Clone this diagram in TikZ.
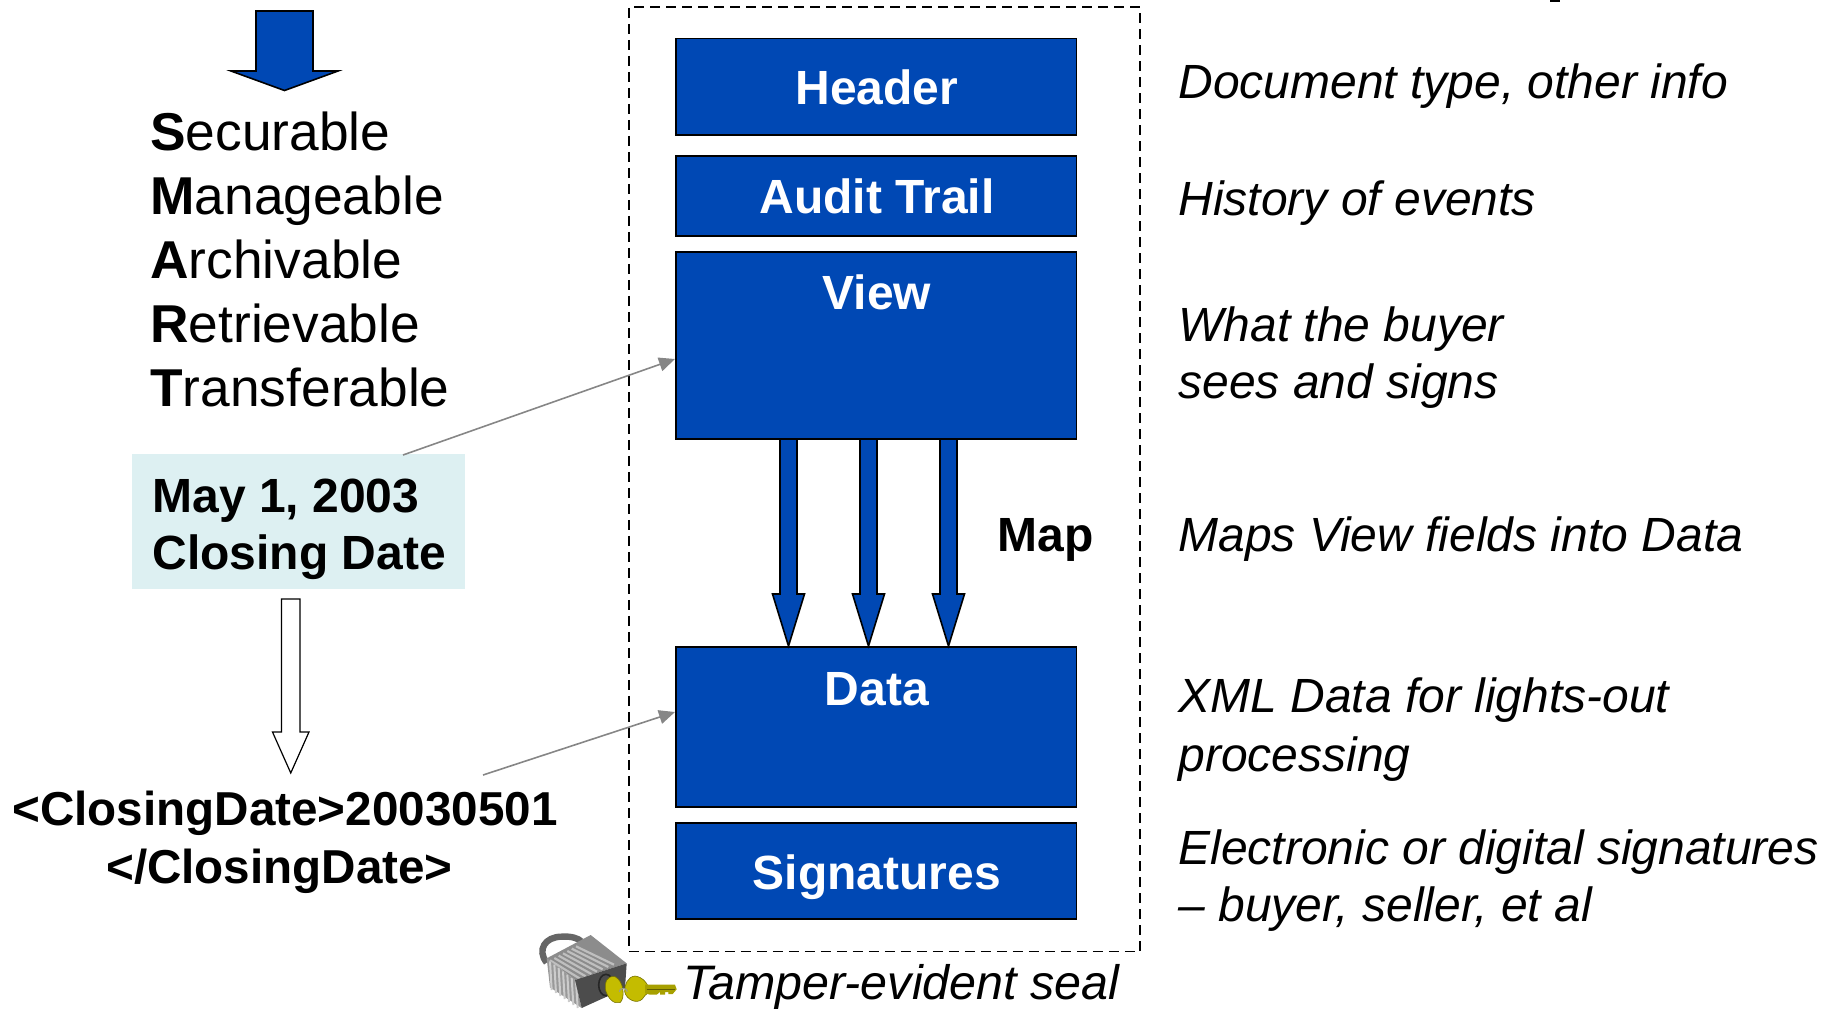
\documentclass[tikz,border=0pt]{standalone}
\usepackage{fontspec}
\setmainfont{Liberation Sans}
\usetikzlibrary{arrows.meta}
\definecolor{blockblue}{HTML}{0048B4}
\definecolor{paleblue}{HTML}{DDF0F2}
\definecolor{linegrey}{HTML}{868686}
\definecolor{keyolive}{HTML}{C4BC00}
\tikzset{
  block/.style={draw=black,line width=.8pt,fill=blockblue,inner sep=0pt},
  blocktext/.style={text=white,font=\fontsize{24}{28}\selectfont\bfseries,anchor=base},
  plain/.style={anchor=base west,inner sep=0pt,font=\fontsize{26.65}{32}\selectfont},
  note/.style={anchor=base west,inner sep=0pt,font=\fontsize{24}{29}\selectfont\itshape},
  sealnote/.style={anchor=base west,inner sep=0pt,font=\fontsize{24.2}{29}\selectfont\itshape},
  strong/.style={anchor=base west,inner sep=0pt,font=\fontsize{24}{29}\selectfont\bfseries},
  strongc/.style={anchor=base,inner sep=0pt,font=\fontsize{23.8}{29}\selectfont\bfseries},
  blockarrow/.style={draw=black,line width=.8pt,fill=blockblue,line join=miter},
  hollowarrow/.style={draw=black,line width=.6pt,fill=white,line join=miter},
  pointer/.style={draw=linegrey,line width=.8pt,-{Triangle[length=8pt,width=7pt]}},
}
\newcommand{\downarrowshape}[7][blockarrow]{% style, x-left, x-right, y-top, y-shoulder, head half overhang, tip y
  \path[#1] (#2,#4) -- (#3,#4) -- (#3,#5) -- ({#3+#6},#5) -- ({(#2+#3)/2},#7) -- ({#2-#6},#5) -- (#2,#5) -- cycle;}
\begin{document}
\begin{tikzpicture}[x=.5pt,y=-.5pt]
\useasboundingbox (0,0) rectangle (1832,1008);
% dashed container
\node[draw=black,dash pattern=on 5pt off 3pt,line width=.8pt,minimum width=255.6pt,minimum height=472.3pt,inner sep=0pt,anchor=north west] (frame) at (628,6) {};
% blocks
\node[block,minimum width=200.3pt,minimum height=48.3pt,anchor=north west] (header) at (675,37.5) {};
\node[block,minimum width=200.3pt,minimum height=40pt,anchor=north west] (audit) at (675,155) {};
\node[block,minimum width=200.3pt,minimum height=93.5pt,anchor=north west] (view) at (675,251) {};
\node[block,minimum width=200.3pt,minimum height=80pt,anchor=north west] (data) at (675,646) {};
\node[block,minimum width=200.3pt,minimum height=48pt,anchor=north west] (sign) at (675,822) {};
\node[blocktext] (headert) at (877,104) {Header};
\node[blocktext] (auditt) at (877,213) {Audit Trail};
\node[blocktext] (viewt) at (877,309) {View};
\node[blocktext] (datat) at (877,705) {Data};
\node[blocktext] (signt) at (877,889) {Signatures};
% map arrows
\downarrowshape{780}{797}{439}{594}{7.5}{646}
\downarrowshape{860}{877}{439}{594}{7.5}{646}
\downarrowshape{940}{957}{439}{594}{7.5}{646}
\node[strong] (map) at (997,551) {Map};
% top arrow
\downarrowshape{256}{313}{11}{71}{25}{90.5}
% acronym list
\node[plain] (s) at (150,150.5) {\textbf{S}ecurable};
\node[plain] (m) at (150,214.5) {\textbf{M}anageable};
\node[plain] (a) at (150,278.5) {\textbf{A}rchivable};
\node[plain] (r) at (150,342.5) {\textbf{R}etrievable};
\node[plain] (t) at (150,406.5) {\textbf{T}ransferable};
% closing date
\node[fill=paleblue,minimum width=166.5pt,minimum height=67.5pt,inner sep=0pt,anchor=north west] (date) at (132,454) {};
\node[strong] (date1) at (152,512) {May 1, 2003};
\node[strong] (date2) at (152,569) {Closing Date};
\downarrowshape[hollowarrow]{281.5}{300}{599}{732}{9}{773}
\node[strongc] (xml1) at (285,825.5) {<ClosingDate>20030501};
\node[strongc] (xml2) at (279.5,883) {</ClosingDate>};
% pointers
\coordinate (p1s) at (403,455);
\coordinate (p1e) at (view.west |- 0,359);
\coordinate (p2s) at (483,775);
\coordinate (p2e) at (data.west |- 0,712);
\draw[pointer] (p1s) -- (p1e);
\draw[pointer] (p2s) -- (p2e);
% notes
\node[note] (n1) at (1178,98.5) {Document type, other info};
\node[note] (n2) at (1178,215.5) {History of events};
\node[note] (n3) at (1178,341) {What the buyer};
\node[note] (n3b) at (1178,398) {sees and signs};
\node[note] (n4) at (1178,551.5) {Maps View fields into Data};
\node[note] (n5) at (1178,712.5) {XML Data for lights-out};
\node[note] (n5b) at (1178,771) {processing};
\node[note] (n6) at (1178,864) {Electronic or digital signatures};
\node[note] (n6b) at (1178,921) {– buyer, seller, et al};
\node[sealnote] (seal) at (683,999) {Tamper-evident seal};
% clipped mark at the top edge
\fill[black] (1550,0) rectangle (1560,1.5);
% padlock and key
\begin{scope}[shift={(500,900)},x=.16667pt,y=-.16667pt]
  \draw[line width=3.2pt,draw=black!60] (140,188) .. controls (110,150) and (135,110) .. (185,110) .. controls (215,108) and (235,115) .. (245,125);
  \fill[black!45] (140,175) -- (272,105) -- (380,190) -- (225,240) -- cycle;
  \foreach \i in {0,...,6} {
    \draw[white!75!black,line width=1.1pt] ({150+\i*13},{175-\i*7+6}) -- ({240+\i*17},{236-\i*7+0});
  }
  \fill[black!40] (140,175) -- (225,240) -- (245,324) -- (150,262) -- cycle;
  \foreach \i in {0,...,6} {
    \draw[white!80!black,line width=1pt] ({150+\i*13},{184+\i*10}) -- ({155+\i*13},{270+\i*9});
  }
  \fill[black!70] (225,240) -- (380,190) -- (375,265) -- (245,324) -- cycle;
  \draw[black!85,line width=.8pt] (318,255) ellipse (22 and 32);
  \filldraw[draw=black!40!keyolive,fill=keyolive,line width=.3pt] (345,230) .. controls (318,226) and (314,250) .. (316,268) .. controls (322,292) and (340,314) .. (360,308) .. controls (376,296) and (372,242) .. (345,230) -- cycle;
  \filldraw[draw=black!40!keyolive,fill=keyolive,line width=.3pt] (405,228) .. controls (383,230) and (373,255) .. (374,275) .. controls (378,298) and (410,314) .. (427,297) .. controls (434,287) and (437,284) .. (442,280) -- (442,254) .. controls (437,247) and (430,232) .. (405,228) -- cycle;
  \fill[black!15!keyolive] (435,254) -- (525,254) -- (530,268) -- (518,282) -- (505,282) -- (505,276) -- (495,276) -- (495,284) -- (480,284) -- (480,276) -- (470,284) -- (450,284) -- (435,280) -- cycle;
  \draw[white!60!black,line width=.5pt] (358,275) arc (180:360:12 and 10);
  \draw[black!50!keyolive,line width=.4pt] (440,268) -- (525,268);
\end{scope}
\end{tikzpicture}
\end{document}
